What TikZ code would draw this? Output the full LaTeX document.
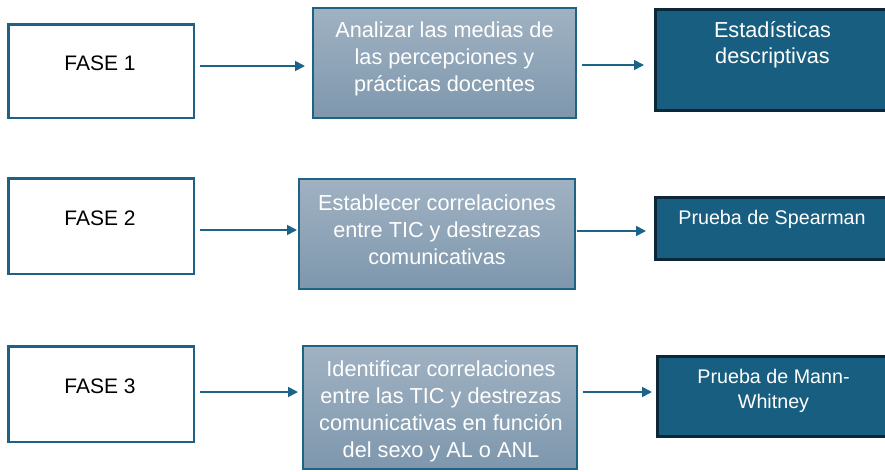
\documentclass[tikz,border=0pt]{standalone}
\usepackage{fontspec}
\setmainfont{Liberation Sans}
\usetikzlibrary{arrows.meta,calc}
\definecolor{fasecol}{RGB}{29,98,133}
\definecolor{midtop}{RGB}{160,178,194}
\definecolor{midbot}{RGB}{126,151,173}
\definecolor{midborder}{RGB}{31,99,132}
\definecolor{resfill}{RGB}{23,94,128}
\definecolor{resborder}{RGB}{12,40,56}
\definecolor{arrcol}{RGB}{27,100,136}
\begin{document}
\begin{tikzpicture}[x=1pt,y=-1pt,
  fasebox/.style={draw=fasecol,line width=2.5pt,fill=white,rectangle,inner sep=0pt},
  midbox/.style={draw=midborder,line width=2pt,top color=midtop,bottom color=midbot,rectangle,inner sep=0pt},
  resbox/.style={draw=resborder,fill=resfill,line width=3pt,rectangle,inner sep=0pt},
  fasetxt/.style={font=\fontsize{21}{25}\selectfont,text=black,inner sep=0pt,anchor=base},
  midtxt/.style={font=\fontsize{21.7}{27}\selectfont,text=white,align=center,inner sep=0pt},
  restxtA/.style={font=\fontsize{21.7}{26}\selectfont,text=white,align=center,inner sep=0pt},
  restxtB/.style={font=\fontsize{19.7}{25}\selectfont,text=white,align=center,inner sep=0pt},
  arr/.style={draw=arrcol,line width=1.8pt,-{Triangle[length=10pt,width=10pt]}}]
\useasboundingbox (0,0) rectangle (885,471);
\clip (0,0) rectangle (885,471);
\fill[white] (0,0) rectangle (885,471);
% boxes
\node[fasebox,minimum width=185.5pt,minimum height=93.5pt] (f1) at (101,71) {};
\node[fasebox,minimum width=185.5pt,minimum height=95.5pt] (f2) at (101,226) {};
\node[fasebox,minimum width=185.5pt,minimum height=95.5pt] (f3) at (101,394) {};
\node[midbox,minimum width=263pt,minimum height=110pt] (m1) at (444.5,63) {};
\node[midbox,minimum width=276pt,minimum height=110pt] (m2) at (437,234) {};
\node[midbox,minimum width=274pt,minimum height=123pt] (m3) at (440,407.5) {};
\node[resbox,minimum width=234pt,minimum height=101pt] (r1) at (772.5,60) {};
\node[resbox,minimum width=233pt,minimum height=62pt] (r2) at (772,228.5) {};
\node[resbox,minimum width=232pt,minimum height=80pt] (r3) at (773.5,396.5) {};
% texts
\node[fasetxt] (tf1) at (100,70.7) {FASE 1};
\node[fasetxt] (tf2) at (100,225) {FASE 2};
\node[fasetxt] (tf3) at (100,393.3) {FASE 3};
\node[midtxt] (tm1) at (444.5,59) {Analizar las medias de\\las percepciones y\\prácticas docentes};
\node[midtxt] (tm2) at (437,229.3) {Establecer correlaciones\\entre TIC y destrezas\\comunicativas};
\node[midtxt] (tm3) at (441,411) {Identificar correlaciones\\entre las TIC y destrezas\\comunicativas en función\\del sexo y AL o ANL};
\node[restxtA] (tr1) at (772.5,45) {Estadísticas\\descriptivas};
\node[restxtB,anchor=base] (tr2) at (772,224) {Prueba de Spearman};
\node[restxtB] (tr3) at (773.5,390.8) {Prueba de Mann-\\Whitney};
% arrows
\draw[arr] ($(f1.east)+(5,-5)$) -- ($(f1.east -| m1.west)+(-7,-5)$);
\draw[arr] ($(m1.east)+(5,2)$) -- ($(m1.east -| r1.west)+(-10,2)$);
\draw[arr] ($(f2.east)+(5,4)$) -- ($(f2.east -| m2.west)+(-1,4)$);
\draw[arr] ($(m2.east)+(1,-3)$) -- ($(m2.east -| r2.west)+(-8,-3)$);
\draw[arr] ($(f3.east)+(5,-2)$) -- ($(f3.east -| m3.west)+(-4,-2)$);
\draw[arr] ($(m3.east)+(5,-15.5)$) -- ($(m3.east -| r3.west)+(-4,-15.5)$);
\end{tikzpicture}
\end{document}
